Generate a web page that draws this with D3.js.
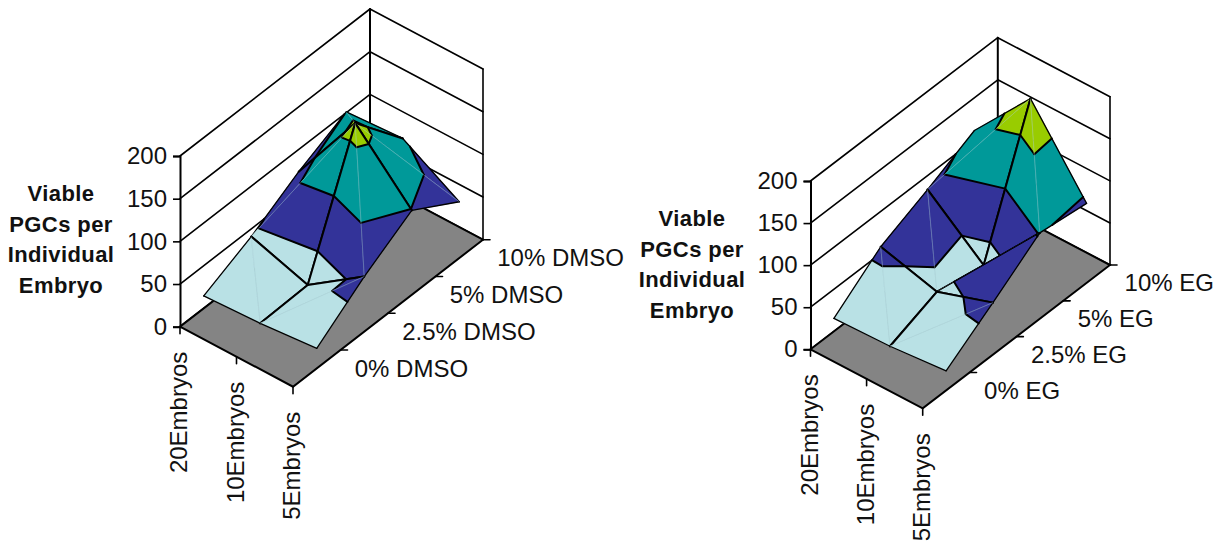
<!DOCTYPE html>
<html>
<head>
<meta charset="utf-8">
<script src="https://cdn.jsdelivr.net/npm/d3@7"></script>
<style>
    html, body { margin: 0; padding: 0; background: #fff; }
    text { font-family: "Liberation Sans", Arial, sans-serif; fill: #111; }
    .tick-label { font-size: 24px; }
    .axis-title { font-size: 22px; font-weight: bold; letter-spacing: 0.4px; }
</style>
</head>
<body>
<div id="chart"></div>
<script>
var embryos = ["20Embryos", "10Embryos", "5Embryos"];
var valueTicks = [0, 50, 100, 150, 200];
var titleLines = ["Viable", "PGCs per", "Individual", "Embryo"];

var dmsoSeries = ["0% DMSO", "2.5% DMSO", "5% DMSO", "10% DMSO"];
var dmso0 = [14.5, 17.6, 23.4];
var dmso25 = [41, 19.5, 64.5];
var dmso5 = [74, 166, 99];
var dmso10 = [101, 105, 66];

var egSeries = ["0% EG", "2.5% EG", "5% EG", "10% EG"];
var eg0 = [15.4, 17.4, 23.3];
var eg25 = [58, 39.5, 61.7];
var eg5 = [83.4, 28.5, 102];
var eg10 = [111, 184, 94.5];

var bands = [
    {lo: 0, hi: 50, color: "#b9e1e5"},
    {lo: 50, hi: 100, color: "#333399"},
    {lo: 100, hi: 150, color: "#009999"},
    {lo: 150, hi: 200, color: "#99cc00"}
];

var svg = d3.select("#chart").append("svg")
    .attr("width", 1215)
    .attr("height", 544);

var line = d3.line()
    .x(function(d) { return d.x; })
    .y(function(d) { return d.y; });

// keeps the part of a polygon whose value is on one side of a level
function clipLevel(poly, level, keepAbove) {
    var out = [];
    poly.forEach(function(p, i) {
        var q = poly[(i + 1) % poly.length];
        var pIn = keepAbove ? p.v >= level : p.v <= level;
        var qIn = keepAbove ? q.v >= level : q.v <= level;
        if (pIn) out.push(p);
        if (pIn !== qIn) out.push(crossing(p, q, level));
    });
    return out;
}

function crossing(p, q, level) {
    var f = (level - p.v) / (q.v - p.v);
    return {x: p.x + f * (q.x - p.x), y: p.y + f * (q.y - p.y), v: level};
}

function triArea(t) {
    return Math.abs(d3.polygonArea(t.map(function(p) { return [p.x, p.y]; })));
}

function drawSurface(cfg) {
    var g = svg.append("g");

    var xScale = d3.scalePoint().domain(embryos).range([0, 1]);
    var zScale = d3.scaleBand().domain(cfg.series).range([0, 1]);
    var hScale = d3.scaleLinear().domain([0, 200]).range([0, cfg.height]);

    // oblique projection of the Excel style box
    function project(t, d, v) {
        return {
            x: cfg.origin[0] + t * cfg.across[0] + d * cfg.deep[0],
            y: cfg.origin[1] + t * cfg.across[1] + d * cfg.deep[1] - hScale(v),
            v: v
        };
    }

    function edge(a, b, width) {
        g.append("path")
            .attr("d", line([a, b]))
            .attr("fill", "none")
            .attr("stroke", "#000")
            .attr("stroke-width", width)
            .attr("stroke-linecap", "round");
    }

    // walls
    valueTicks.forEach(function(v) {
        edge(project(0, 0, v), project(0, 1, v), 1.6);
        edge(project(0, 1, v), project(1, 1, v), 1.6);
    });
    edge(project(0, 1, 0), project(0, 1, 200), 2);
    edge(project(1, 1, 0), project(1, 1, 200), 1.6);

    // floor
    g.append("path")
        .attr("d", line([project(0, 0, 0), project(1, 0, 0), project(1, 1, 0), project(0, 1, 0)]) + "Z")
        .attr("fill", "#848484")
        .attr("stroke", "#000")
        .attr("stroke-width", 2);

    // value axis
    var valueAxis = d3.axisLeft(d3.scaleLinear().domain([0, 200]).range([0, -cfg.height]))
        .tickValues(valueTicks)
        .tickSize(7)
        .tickPadding(6)
        .tickFormat(d3.format("d"));

    var axisG = g.append("g")
        .attr("transform", "translate(" + cfg.origin[0] + "," + cfg.origin[1] + ")")
        .call(valueAxis);
    axisG.select(".domain").attr("stroke", "#000").attr("stroke-width", 2);
    axisG.selectAll(".tick line").attr("stroke", "#000").attr("stroke-width", 1.6);
    axisG.selectAll(".tick text").attr("class", "tick-label").attr("font-family", null).attr("font-size", null);

    // category ticks and labels
    embryos.forEach(function(c) {
        var p = project(xScale(c), 0, 0);
        edge(p, {x: p.x, y: p.y + 7}, 1.6);
        g.append("text")
            .attr("class", "tick-label")
            .attr("text-anchor", "end")
            .attr("transform", "translate(" + (p.x + 7) + "," + (p.y + 25) + ") rotate(-90)")
            .text(c);
    });

    // series ticks and labels
    cfg.series.forEach(function(s) {
        var d = zScale(s);
        var tickAt = project(1, d + zScale.bandwidth(), 0);
        edge(tickAt, {x: tickAt.x + 7, y: tickAt.y}, 1.6);
        var mid = project(1, d + zScale.bandwidth() / 2, 0);
        g.append("text")
            .attr("class", "tick-label")
            .attr("x", mid.x + 38)
            .attr("y", mid.y)
            .attr("dy", "0.35em")
            .text(s);
    });

    // axis title
    g.selectAll(".axis-title")
        .data(titleLines)
        .enter().append("text")
        .attr("class", "axis-title")
        .attr("text-anchor", "middle")
        .attr("x", cfg.titleX)
        .attr("y", function(d, i) { return cfg.titleY + i * 30.5; })
        .text(function(d) { return d; });

    // surface nodes, rows run front to back
    var nodes = cfg.rows.map(function(row, j) {
        return row.map(function(v, i) {
            var p = project(xScale(embryos[i]), zScale(cfg.series[j]) + zScale.bandwidth() / 2, v);
            p.i = i;
            p.j = j;
            return p;
        });
    });

    // every cell is split along the diagonal with the larger sum
    var triangles = [];
    d3.range(cfg.rows.length - 1).forEach(function(j) {
        d3.range(embryos.length - 1).forEach(function(i) {
            var a = nodes[j][i], b = nodes[j][i + 1], c = nodes[j + 1][i + 1], e = nodes[j + 1][i];
            var pair = a.v + c.v >= b.v + e.v ? [[a, b, c], [a, c, e]] : [[a, b, e], [b, c, e]];
            // a nearly flat sliver shows up as a thin dark line
            var sliver = Math.min(triArea(pair[0]), triArea(pair[1])) < 50;
            pair.forEach(function(t) { t.sliver = sliver; });
            triangles.push(pair[0], pair[1]);
        });
    });

    function depth(tri) {
        return d3.mean(tri, function(p) { return p.j / 3 - p.i / 2; });
    }
    triangles.sort(function(a, b) { return depth(b) - depth(a); });

    // the outer rim of the surface is drawn lighter than the inner mesh
    function onRim(p, q) {
        return (p.i === q.i && (p.i === 0 || p.i === 2)) || (p.j === q.j && (p.j === 0 || p.j === 3));
    }

    triangles.forEach(function(tri) {
        bands.forEach(function(band) {
            var poly = clipLevel(clipLevel(tri, band.lo, true), band.hi, false);
            if (poly.length < 3) return;
            g.append("path")
                .attr("d", line(poly) + "Z")
                .attr("fill", band.color)
                .attr("stroke", band.color)
                .attr("stroke-width", 0.6);
        });

        // band borders
        bands.slice(1).forEach(function(band) {
            var pts = [];
            tri.forEach(function(p, i) {
                var q = tri[(i + 1) % 3];
                if ((p.v < band.lo) !== (q.v < band.lo)) pts.push(crossing(p, q, band.lo));
            });
            if (pts.length === 2) edge(pts[0], pts[1], 2);
        });

        // mesh lines black, the split diagonal only a faint seam
        tri.forEach(function(p, i) {
            var q = tri[(i + 1) % 3];
            if (p.i === q.i || p.j === q.j) {
                edge(p, q, onRim(p, q) ? 1.3 : 2);
            } else {
                g.append("path")
                    .attr("d", line([p, q]))
                    .attr("stroke", tri.sliver ? "#000" : "#a8ccd2")
                    .attr("stroke-opacity", tri.sliver ? 1 : 0.6)
                    .attr("stroke-width", tri.sliver ? 1 : 0.6);
            }
        });
    });
}

drawSurface({
    series: dmsoSeries,
    rows: [dmso0, dmso25, dmso5, dmso10],
    origin: [180, 326.7],
    across: [113, 60],
    deep: [190, -147],
    height: 170.7,
    titleX: 61,
    titleY: 201
});

drawSurface({
    series: egSeries,
    rows: [eg0, eg25, eg5, eg10],
    origin: [810.5, 349.3],
    across: [112.2, 59],
    deep: [187.3, -143.3],
    height: 168.3,
    titleX: 692,
    titleY: 226
});
</script>
</body>
</html>
